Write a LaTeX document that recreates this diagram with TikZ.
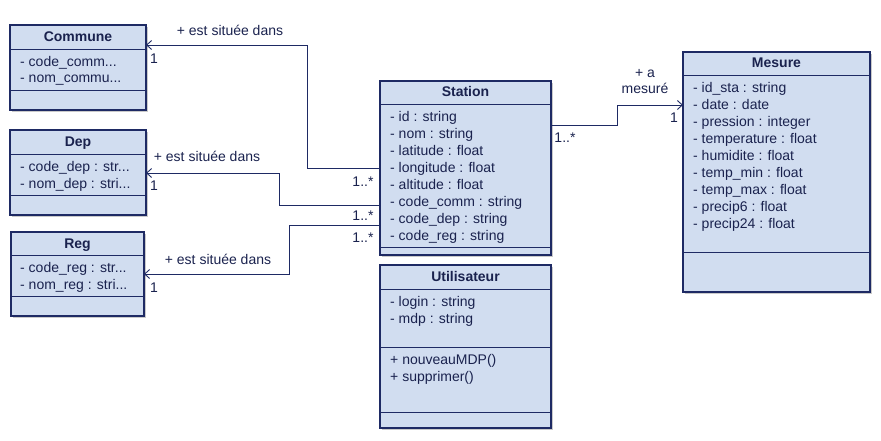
\documentclass[tikz,border=0pt]{standalone}
\usepackage{fontspec}
\setmainfont{Liberation Sans}
\usetikzlibrary{arrows.meta,shadows}
\definecolor{clsfill}{RGB}{209,221,240}
\definecolor{clsline}{RGB}{30,42,100}
\definecolor{clstext}{RGB}{26,34,78}
\begin{document}
\begin{tikzpicture}[x=1pt,y=-1pt,
  cls/.style={draw=clsline, line width=1.3pt, fill=clsfill, anchor=north west, inner sep=0pt, outer sep=0pt,
    drop shadow={shadow xshift=2pt, shadow yshift=-2pt, fill=black!35, opacity=0.6}},
  sec/.style={draw=clsline, line width=1pt},
  hdr/.style={text=clstext, font=\fontsize{14}{16}\selectfont\bfseries, inner sep=0pt, text height=11pt, text depth=2pt},
  attr/.style={text=clstext, font=\fontsize{14}{16}\selectfont, inner sep=0pt, anchor=west, text height=11pt, text depth=2pt},
  lbl/.style={text=clstext, font=\fontsize{14}{16}\selectfont, inner sep=0pt, text height=11pt, text depth=2pt},
  assoc/.style={draw=clsline, line width=1pt, -{Straight Barb[length=5pt,width=9pt,line width=0.9pt]}}
]
\useasboundingbox (0,0) rectangle (881,440);

% ---------- Commune
\node[cls, minimum width=136pt, minimum height=85pt] (commune) at (10,25) {};
\draw[sec] ([yshift=-24pt]commune.north west) -- ([yshift=-24pt]commune.north east);
\draw[sec] ([yshift=-65pt]commune.north west) -- ([yshift=-65pt]commune.north east);
\node[hdr] (communeh) at (78,37) {Commune};
\node[attr] (communea1) at (20,62) {- code\_comm...};
\node[attr] (communea2) at (20,78) {- nom\_commu...};

% ---------- Dep
\node[cls, minimum width=136pt, minimum height=85pt] (dep) at (10,130) {};
\draw[sec] ([yshift=-24pt]dep.north west) -- ([yshift=-24pt]dep.north east);
\draw[sec] ([yshift=-65pt]dep.north west) -- ([yshift=-65pt]dep.north east);
\node[hdr] (deph) at (78,142) {Dep};
\node[attr] (depa1) at (20,167) {- code\_dep : str...};
\node[attr] (depa2) at (20,184) {- nom\_dep : stri...};

% ---------- Reg
\node[cls, minimum width=133pt, minimum height=84pt] (reg) at (11,232) {};
\draw[sec] ([yshift=-23pt]reg.north west) -- ([yshift=-23pt]reg.north east);
\draw[sec] ([yshift=-64pt]reg.north west) -- ([yshift=-64pt]reg.north east);
\node[hdr] (regh) at (77.5,244) {Reg};
\node[attr] (rega1) at (20,268) {- code\_reg : str...};
\node[attr] (rega2) at (20,285) {- nom\_reg : stri...};

% ---------- Station
\node[cls, minimum width=171pt, minimum height=174pt] (station) at (380,81) {};
\draw[sec] ([yshift=-23pt]station.north west) -- ([yshift=-23pt]station.north east);
\draw[sec] ([yshift=-166pt]station.north west) -- ([yshift=-166pt]station.north east);
\node[hdr] (stationh) at (465.5,92) {Station};
\node[attr] (sta1) at (390,117) {- id : string};
\node[attr] (sta2) at (390,134) {- nom : string};
\node[attr] (sta3) at (390,151) {- latitude : float};
\node[attr] (sta4) at (390,168) {- longitude : float};
\node[attr] (sta5) at (390,185) {- altitude : float};
\node[attr] (sta6) at (390,202) {- code\_comm : string};
\node[attr] (sta7) at (390,219) {- code\_dep : string};
\node[attr] (sta8) at (390,236) {- code\_reg : string};

% ---------- Utilisateur
\node[cls, minimum width=171pt, minimum height=163pt] (util) at (380,265) {};
\draw[sec] ([yshift=-24pt]util.north west) -- ([yshift=-24pt]util.north east);
\draw[sec] ([yshift=-82pt]util.north west) -- ([yshift=-82pt]util.north east);
\draw[sec] ([yshift=-147pt]util.north west) -- ([yshift=-147pt]util.north east);
\node[hdr] (utilh) at (465.5,277) {Utilisateur};
\node[attr] (uta1) at (390,302) {- login : string};
\node[attr] (uta2) at (390,319) {- mdp : string};
\node[attr] (utm1) at (390,360) {+ nouveauMDP()};
\node[attr] (utm2) at (390,377) {+ supprimer()};

% ---------- Mesure
\node[cls, minimum width=187pt, minimum height=240pt] (mesure) at (683,52) {};
\draw[sec] ([yshift=-23pt]mesure.north west) -- ([yshift=-23pt]mesure.north east);
\draw[sec] ([yshift=-200pt]mesure.north west) -- ([yshift=-200pt]mesure.north east);
\node[hdr] (mesureh) at (776.5,63) {Mesure};
\node[attr] (mea1) at (693,88) {- id\_sta : string};
\node[attr] (mea2) at (693,105) {- date : date};
\node[attr] (mea3) at (693,122) {- pression : integer};
\node[attr] (mea4) at (693,139) {- temperature : float};
\node[attr] (mea5) at (693,156) {- humidite : float};
\node[attr] (mea6) at (693,173) {- temp\_min : float};
\node[attr] (mea7) at (693,190) {- temp\_max : float};
\node[attr] (mea8) at (693,207) {- precip6 : float};
\node[attr] (mea9) at (693,224) {- precip24 : float};

% ---------- Connectors
\coordinate (c1) at (307,45);
\coordinate (d1) at (279,173);
\coordinate (r1) at (289,274);
\coordinate (m1) at (617,105);
\draw[assoc] ([yshift=-87pt]station.north west) -| (c1) -- (commune.east |- c1);
\draw[assoc] ([yshift=-124pt]station.north west) -| (d1) -- (dep.east |- d1);
\draw[assoc] ([yshift=-144pt]station.north west) -| (r1) -- (reg.east |- r1);
\draw[assoc] ([yshift=-44pt]station.north east) -| (m1) -- (mesure.west |- m1);

% ---------- Labels
\node[lbl] (lc) at (230,31) {+ est située dans};
\node[lbl] (lc1) at (154,59) {1};
\node[lbl] (lcm) at (363,182) {1..*};
\node[lbl] (ld) at (207,157) {+ est située dans};
\node[lbl] (ld1) at (154,186) {1};
\node[lbl] (ldm) at (363,216) {1..*};
\node[lbl] (lr) at (218,260) {+ est située dans};
\node[lbl] (lr1) at (154,288) {1};
\node[lbl] (lrm) at (363,238) {1..*};
\node[lbl] (lm) at (645,73) {+ a};
\node[lbl] (lm2) at (645,89) {mesuré};
\node[lbl] (lm1) at (674,118) {1};
\node[lbl] (lmm) at (565,138) {1..*};
\end{tikzpicture}
\end{document}
